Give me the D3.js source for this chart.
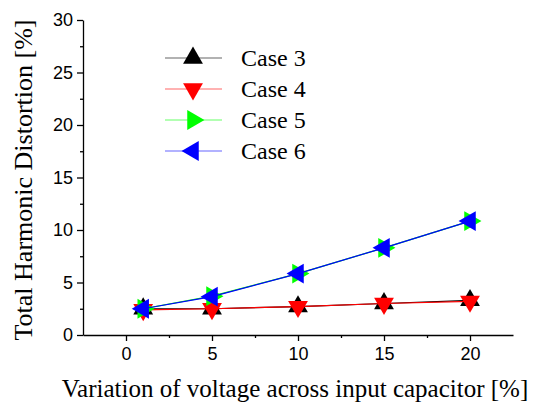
<!DOCTYPE html>
<html lang="en">
<head>
    <meta charset="UTF-8"/>
    <title>THD vs capacitor voltage variation</title>
    <script src="https://d3js.org/d3.v7.min.js" charset="utf-8"></script>
    <style type="text/css">
        body { margin: 0; background: #fff; }
        .tick text { font-family: "Liberation Sans", Arial, sans-serif; font-size: 18px; fill: #000; }
        .axis path, .axis line { stroke: #000; stroke-width: 1.3px; }
        text.title { font-family: "Liberation Serif", "Times New Roman", serif; fill: #000; }
        .legend text { font-family: "Liberation Serif", "Times New Roman", serif; font-size: 24px; fill: #000; }
    </style>
</head>
<body>
<div id="diagram"></div>
<script type="text/javascript">

    var variation = [1, 5, 10, 15, 20];
    var case3 = [2.5, 2.5, 2.7, 3.0, 3.3];
    var case4 = [2.4, 2.5, 2.7, 3.0, 3.2];
    var case5 = [2.5, 3.7, 5.85, 8.3, 10.85];
    var case6 = [2.5, 3.65, 5.85, 8.3, 10.85];
    var xTicks = [0, 5, 10, 15, 20];
    var yTicks = [0, 5, 10, 15, 20, 25, 30];

    var series = [
        {name: "Case 3", values: case3, color: "#000000", rotate: 0},
        {name: "Case 4", values: case4, color: "#ff0000", rotate: 180},
        {name: "Case 5", values: case5, color: "#00ff00", rotate: 90},
        {name: "Case 6", values: case6, color: "#0000ff", rotate: -90}
    ];

    var margin = {top: 20, right: 23, bottom: 68, left: 83},
        width = 536 - margin.left - margin.right,
        height = 403 - margin.top - margin.bottom;

    var root = d3.select("#diagram")
        .append("svg")
        .attr("width", 536)
        .attr("height", 403);

    var svg = root.append("g")
        .attr("transform", "translate(" + margin.left + "," + margin.top + ")");

    var x = d3.scaleLinear().domain([-2.5, 22.5]).range([0, width]);
    var y = d3.scaleLinear().domain([0, 30]).range([height, 0]);

    // minor ticks
    svg.append("g")
        .attr("class", "axis")
        .attr("transform", "translate(0," + height + ")")
        .call(d3.axisBottom(x).tickValues([2.5, 7.5, 12.5, 17.5]).tickSize(3).tickFormat(""))
        .select(".domain").remove();
    svg.append("g")
        .attr("class", "axis")
        .call(d3.axisLeft(y).tickValues([2.5, 7.5, 12.5, 17.5, 22.5, 27.5]).tickSize(3).tickFormat(""))
        .select(".domain").remove();

    svg.append("g")
        .attr("class", "axis")
        .attr("transform", "translate(0," + height + ")")
        .call(d3.axisBottom(x).tickValues(xTicks).tickSize(6).tickSizeOuter(0).tickPadding(6));

    svg.append("g")
        .attr("class", "axis")
        .call(d3.axisLeft(y).tickValues(yTicks).tickSize(6).tickSizeOuter(0).tickPadding(4));

    var line = d3.line()
        .x(function(d, i) { return x(variation[i]); })
        .y(function(d) { return y(d); });

    var tri = d3.symbol().type(d3.symbolTriangle).size(170);

    series.forEach(function(s) {
        svg.append("path")
            .datum(s.values)
            .attr("d", line)
            .attr("fill", "none")
            .attr("stroke", s.color)
            .attr("stroke-width", 1.2);

        svg.selectAll(null)
            .data(s.values)
            .enter()
            .append("path")
            .attr("d", tri)
            .attr("transform", function(d, i) {
                return "translate(" + x(variation[i]) + "," + y(d) + ") rotate(" + s.rotate + ")";
            })
            .attr("fill", s.color);
    });

    // legend
    var legend = root.append("g").attr("class", "legend");
    series.forEach(function(s, i) {
        var ly = 58 + i * 31;
        legend.append("line")
            .attr("x1", 165).attr("x2", 222)
            .attr("y1", ly).attr("y2", ly)
            .attr("stroke", s.color)
            .attr("stroke-width", 1)
            .attr("opacity", 0.6);
        legend.append("path")
            .attr("d", tri)
            .attr("transform", "translate(193," + ly + ") rotate(" + s.rotate + ")")
            .attr("fill", s.color);
        legend.append("text")
            .attr("x", 241)
            .attr("y", ly + 8)
            .text(s.name);
    });

    root.append("text")
        .attr("class", "title")
        .attr("font-family", "Liberation Serif, serif")
        .attr("text-anchor", "middle")
        .attr("font-size", 25)
        .attr("x", 295)
        .attr("y", 397)
        .text("Variation of voltage across input capacitor [%]");

    root.append("text")
        .attr("class", "title")
        .attr("font-family", "Liberation Serif, serif")
        .attr("text-anchor", "middle")
        .attr("font-size", 26)
        .attr("transform", "translate(32,180) rotate(-90)")
        .text("Total Harmonic Distortion [%]");
</script>
</body>
</html>
